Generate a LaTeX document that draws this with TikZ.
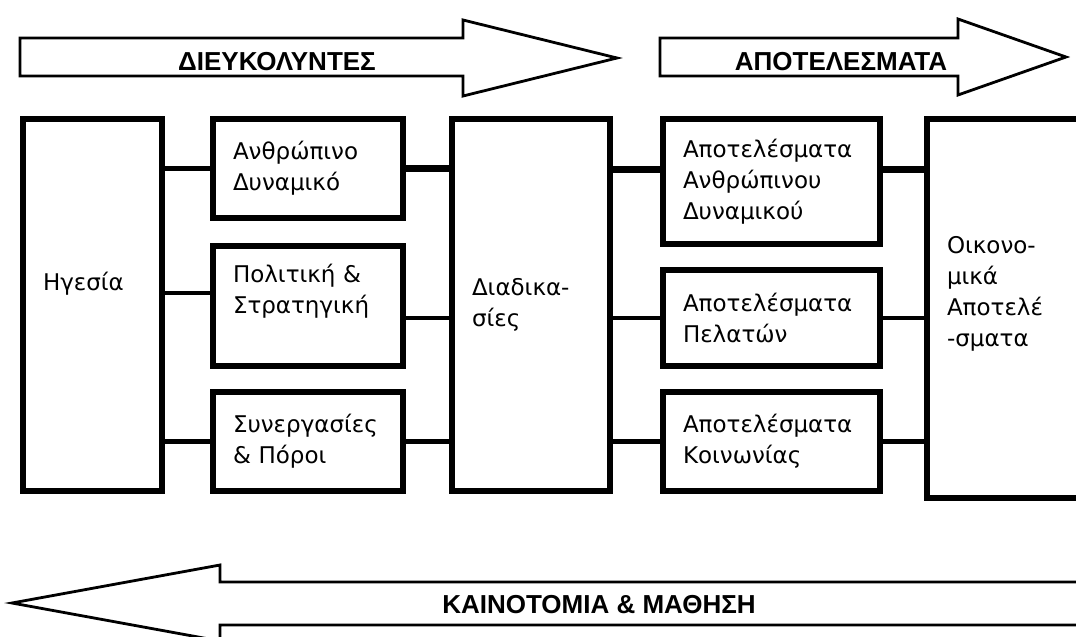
\documentclass[tikz,border=0pt]{standalone}
\usepackage{fontspec}
\setmainfont{DejaVu Sans}
\newfontfamily\headfont{Liberation Sans}
\usetikzlibrary{calc}

\begin{document}
\begin{tikzpicture}[x=1pt, y=-1pt]
  \tikzset{
    blk/.style={draw, line width=5.5pt, anchor=north west, outer sep=0pt,
      inner xsep=20pt, inner ysep=0pt, align=left,
      font=\fontsize{23}{31}\selectfont},
    link/.style={line width=4.5pt},
    wide/.style={line width=7pt},
    band/.style={draw, line width=2.8pt, line join=miter, fill=white},
    head/.style={font=\headfont\bfseries\fontsize{26}{30}\selectfont, anchor=base}}

  \useasboundingbox (0,0) rectangle (1076,637);
  \fill[white] (0,0) rectangle (1076,637);
  \clip (0,0) rectangle (1076,637);

  % --- the two bands on top and the one below
  \draw[band] (20,38) -- (463,38) -- (463,20) -- (617,58) -- (463,96)
    -- (463,76) -- (20,76) -- cycle;
  \draw[band] (660,38) -- (958,38) -- (958,19) -- (1066,57) -- (958,95)
    -- (958,76) -- (660,76) -- cycle;
  \draw[band] (1090,582) -- (220,582) -- (220,565) -- (12,603) -- (220,641)
    -- (220,625) -- (1090,625);
  \node[head] (drivers) at (277,70) {ΔΙΕΥΚΟΛΥΝΤΕΣ};
  \node[head] (results) at (841,70) {ΑΠΟΤΕΛΕΣΜΑΤΑ};
  \node[head] (learning) at (599,613) {ΚΑΙΝΟΤΟΜΙΑ \& ΜΑΘΗΣΗ};

  % --- enablers
  \node[blk, text width=99pt, minimum height=372pt, text depth=47pt]
    (hgesia) at (23,119) {Ηγεσία};
  \node[blk, text width=150pt, minimum height=99pt]
    (anthr) at (213,119) {Ανθρώπινο\\Δυναμικό};
  \node[blk, text width=150pt, minimum height=120pt, text depth=66pt]
    (polit) at (213,246) {Πολιτική \&\\Στρατηγική};
  \node[blk, text width=150pt, minimum height=99pt]
    (synerg) at (213,392) {Συνεργασίες\\\& Πόροι};
  \node[blk, text width=118pt, minimum height=372pt]
    (diad) at (452,119) {Διαδικα-\\σίες};

  % --- results
  \node[blk, text width=177pt, minimum height=125pt]
    (apanth) at (663,119) {Αποτελέσματα\\Ανθρώπινου\\Δυναμικού};
  \node[blk, text width=177pt, minimum height=96pt]
    (appel) at (663,270) {Αποτελέσματα\\Πελατών};
  \node[blk, text width=177pt, minimum height=99pt]
    (apkoin) at (663,392) {Αποτελέσματα\\Κοινωνίας};
  \node[blk, text width=150pt, minimum height=379pt, text depth=128pt]
    (oikon) at (927,119) {Οικονο-\\μικά\\Αποτελέ\\-σματα};

  % --- links
  \coordinate (politL) at ([yshift=13pt]polit.west);
  \coordinate (politR) at ([yshift=-12pt]polit.east);
  \coordinate (apanthL) at ([yshift=12.5pt]apanth.west);
  \coordinate (apanthR) at ([yshift=12.5pt]apanth.east);

  \draw[link] (anthr.west -| hgesia.east) -- (anthr.west);
  \draw[link] (politL -| hgesia.east) -- (politL);
  \draw[link] (synerg.west -| hgesia.east) -- (synerg.west);
  \draw[wide] (anthr.east) -- (anthr.east -| diad.west);
  \draw[link] (politR) -- (politR -| diad.west);
  \draw[link] (synerg.east) -- (synerg.east -| diad.west);
  \draw[wide] (apanthL -| diad.east) -- (apanthL);
  \draw[wide] (apanthR) -- (apanthR -| oikon.west);
  \draw[link] (appel.west -| diad.east) -- (appel.west);
  \draw[link] (appel.east) -- (appel.east -| oikon.west);
  \draw[link] (apkoin.west -| diad.east) -- (apkoin.west);
  \draw[link] (apkoin.east) -- (apkoin.east -| oikon.west);
\end{tikzpicture}
\end{document}
